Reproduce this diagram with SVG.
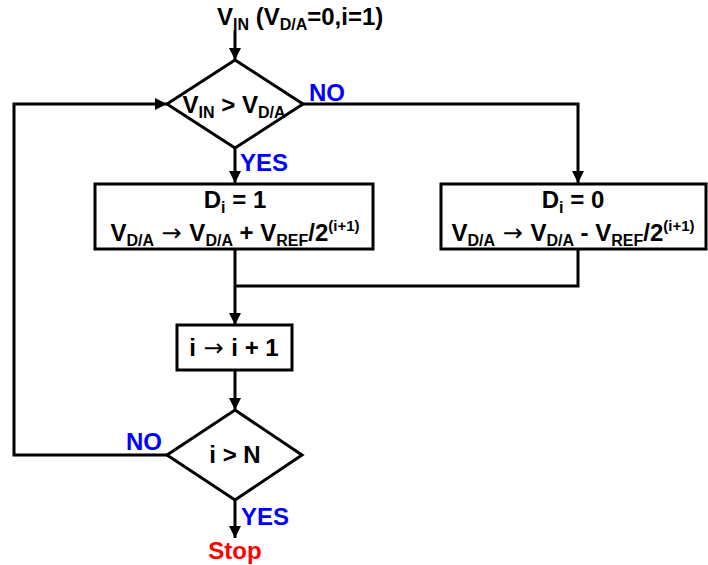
<svg xmlns="http://www.w3.org/2000/svg" width="708" height="565" viewBox="0 0 708 565">
  <style>
    .shape { fill: #ffffff; stroke: #000000; stroke-width: 3; }
    .wire { fill: none; stroke: #000000; stroke-width: 3; }
    .t { font-family: "Liberation Sans", Arial, sans-serif; font-weight: bold; font-size: 24px; fill: #000000; }
    .sub { font-size: 16px; }
    .sup { font-size: 15px; }
    .lbl { font-family: "Liberation Sans", Arial, sans-serif; font-weight: bold; font-size: 24px; fill: #0000ff; }
    .stop { font-family: "Liberation Sans", Arial, sans-serif; font-weight: bold; font-size: 24px; fill: #ff0000; }
    .arr { font-family: "DejaVu Sans", sans-serif; font-weight: normal; }
  </style>
  <defs>
    <marker id="head" viewBox="0 0 10 10" refX="10" refY="5" markerWidth="4" markerHeight="4" markerUnits="strokeWidth" orient="auto">
      <path d="M0,0 L10,5 L0,10 z" fill="#000000"/>
    </marker>
  </defs>

  <!-- connectors -->
  <g id="connectors">
    <line class="wire" x1="235" y1="30" x2="235" y2="60" marker-end="url(#head)"/>
    <polyline class="wire" points="303,104 578,104 578,183" marker-end="url(#head)"/>
    <line class="wire" x1="235" y1="148" x2="235" y2="183" marker-end="url(#head)"/>
    <line class="wire" x1="235" y1="250" x2="235" y2="325" marker-end="url(#head)"/>
    <polyline class="wire" points="578,250 578,286 235,286"/>
    <line class="wire" x1="235" y1="370" x2="235" y2="410" marker-end="url(#head)"/>
    <polyline class="wire" points="167,455 14,455 14,104 167,104" marker-end="url(#head)"/>
    <line class="wire" x1="235" y1="500" x2="235" y2="538" marker-end="url(#head)"/>
  </g>

  <!-- start label -->
  <g id="start">
    <text class="t" x="217" y="25">V<tspan class="sub" dy="5">IN</tspan><tspan dy="-5"> (V</tspan><tspan class="sub" dy="5">D/A</tspan><tspan dy="-5">=0,i=1)</tspan></text>
  </g>

  <!-- decision: VIN > VD/A -->
  <g id="cmp">
    <polygon class="shape" points="235,60 303,104 235,148 167,104"/>
    <text class="t" x="234" y="113" text-anchor="middle">V<tspan class="sub" dy="5">IN</tspan><tspan dy="-5"> &gt; V</tspan><tspan class="sub" dy="5">D/A</tspan></text>
    <text class="lbl" x="309" y="101">NO</text>
    <text class="lbl" x="240" y="171">YES</text>
  </g>

  <!-- bit set -->
  <g id="set1">
    <rect class="shape" x="95" y="184" width="278" height="65"/>
    <text class="t" x="235" y="208" text-anchor="middle">D<tspan class="sub" dy="5">i</tspan><tspan dy="-5"> = 1</tspan></text>
    <text class="t" x="235" y="241" text-anchor="middle">V<tspan class="sub" dy="5">D/A</tspan><tspan class="arr" dy="-5"> → </tspan>V<tspan class="sub" dy="5">D/A</tspan><tspan dy="-5"> + V</tspan><tspan class="sub" dy="5">REF</tspan><tspan dy="-5">/2</tspan><tspan class="sup" dy="-10">(i+1)</tspan></text>
  </g>

  <!-- bit clear -->
  <g id="set0">
    <rect class="shape" x="441" y="184" width="265" height="65"/>
    <text class="t" x="573" y="208" text-anchor="middle">D<tspan class="sub" dy="5">i</tspan><tspan dy="-5"> = 0</tspan></text>
    <text class="t" x="573" y="241" text-anchor="middle">V<tspan class="sub" dy="5">D/A</tspan><tspan class="arr" dy="-5"> → </tspan>V<tspan class="sub" dy="5">D/A</tspan><tspan dy="-5"> - V</tspan><tspan class="sub" dy="5">REF</tspan><tspan dy="-5">/2</tspan><tspan class="sup" dy="-10">(i+1)</tspan></text>
  </g>

  <!-- increment -->
  <g id="inc">
    <rect class="shape" x="177" y="325" width="115" height="45"/>
    <text class="t" x="234" y="356" text-anchor="middle">i<tspan class="arr"> → </tspan>i + 1</text>
  </g>

  <!-- decision: i > N -->
  <g id="loop">
    <polygon class="shape" points="235,410 302,455 235,500 167,455"/>
    <text class="t" x="235" y="463" text-anchor="middle">i &gt; N</text>
    <text class="lbl" x="126" y="450">NO</text>
    <text class="lbl" x="241" y="525">YES</text>
  </g>

  <!-- end -->
  <g id="stop">
    <text class="stop" x="235" y="559" text-anchor="middle">Stop</text>
  </g>
</svg>
